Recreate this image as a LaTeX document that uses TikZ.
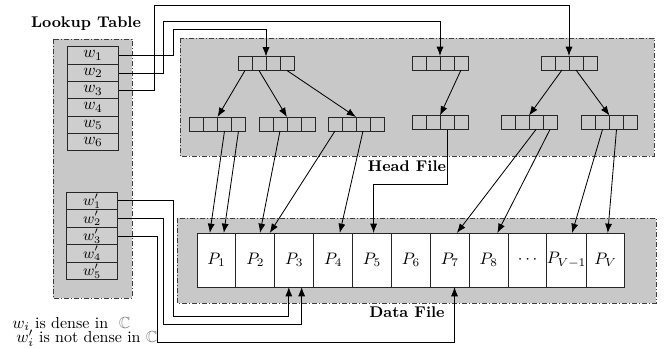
\documentclass[tikz,border=0pt]{standalone}
\usepackage{amssymb}
\usetikzlibrary{calc,arrows.meta}
\definecolor{panel}{RGB}{200,200,200}
\definecolor{cellg}{RGB}{206,206,206}
\definecolor{border}{RGB}{60,60,60}
\begin{document}
\begin{tikzpicture}[x=0.6pt,y=-0.6pt,
  panelbox/.style={draw=border, fill=panel, line width=0.5pt,
    dash pattern=on 3pt off 1.2pt on 0.6pt off 1.2pt},
  wcell/.style={draw=black!85, fill=cellg, line width=0.6pt,
    minimum width=31.2pt, minimum height=10.4pt, inner sep=0pt, outer sep=0pt,
    font=\fontsize{10}{12}\selectfont},
  vcell/.style={wcell, font=\fontsize{8.6}{10}\selectfont},
  pcell/.style={draw=black!85, fill=white, line width=0.6pt,
    minimum width=23.34pt, minimum height=32.4pt, inner sep=0pt, outer sep=0pt,
    font=\fontsize{10}{12}\selectfont},
  quad/.style={draw=black!85, fill=panel, line width=0.6pt,
    minimum width=33.6pt, minimum height=8.4pt, inner sep=0pt, outer sep=0pt,
    path picture={\foreach \f in {0.25,0.5,0.75}
      \draw[black!85, line width=0.6pt]
        ($(path picture bounding box.south west)!\f!(path picture bounding box.south east)$) --
        ($(path picture bounding box.north west)!\f!(path picture bounding box.north east)$);}},
  arr/.style={-{Latex[length=5.6pt,width=4.2pt]}, line width=0.5pt, draw=black},
  lbl/.style={font=\fontsize{9.3}{11}\selectfont\bfseries},
  legend/.style={anchor=west, inner sep=0pt, font=\fontsize{9.6}{11}\selectfont}]

\useasboundingbox (0,0) rectangle (664,349);

% panels
\draw[panelbox] (53,39) rectangle (132,298);
\draw[panelbox] (180,38) rectangle (654,156);
\draw[panelbox] (177,218) rectangle (656,303);

% labels
\node[lbl] (ltitle) at (86,24) {Lookup Table};
\node[lbl] (htitle) at (407,166) {Head File};
\node[lbl] (dtitle) at (407,312) {Data File};

% lookup cells
\foreach \i in {1,...,6}
  \node[wcell] (w\i) at (93,{47+17.3*(\i-0.5)}) {$w_{\i}$};
\foreach \i in {1,...,5}
  \node[vcell] (v\i) at (92,{192+17.6*(\i-0.5)}) {$w'_{\i}$};

% data cells
\foreach \i/\t in {1/P_1,2/P_2,3/P_3,4/P_4,5/P_5,6/P_6,7/P_7,8/P_8,9/\cdots,10/P_{V-1},11/P_V}
  \node[pcell] (p\i) at ({197+38.9*(\i-0.5)},260) {$\t$};

% tree nodes
\node[quad] (t1) at (266,63.5) {};
\node[quad] (t1a) at (217.5,124) {};
\node[quad] (t1b) at (287,124) {};
\node[quad] (t1c) at (356,124) {};
\node[quad] (t2) at (440,63) {};
\node[quad] (t2a) at (440,122.5) {};
\node[quad] (t3) at (569,63) {};
\node[quad] (t3a) at (529,122.5) {};
\node[quad] (t3b) at (609.5,122.5) {};

\foreach \n in {t1,t1a,t1b,t1c,t2,t2a,t3,t3a,t3b}
  \foreach \k/\f in {1/0.125,2/0.375,3/0.625,4/0.875}
    \coordinate (\n s\k) at ($(\n.south west)!\f!(\n.south east)$);

% entry points on data cells
\coordinate (i1a) at ($(p1.north west)!0.33!(p1.north east)$);
\coordinate (i1b) at ($(p1.north west)!0.69!(p1.north east)$);
\coordinate (i2a) at ($(p2.north west)!0.62!(p2.north east)$);
\coordinate (i2b) at ($(p2.north west)!0.87!(p2.north east)$);
\coordinate (i4) at ($(p4.north west)!0.67!(p4.north east)$);
\coordinate (i5) at ($(p5.north west)!0.54!(p5.north east)$);
\coordinate (i7) at ($(p7.north west)!0.68!(p7.north east)$);
\coordinate (i8) at ($(p8.north west)!0.72!(p8.north east)$);
\coordinate (i10) at ($(p10.north west)!0.64!(p10.north east)$);
\coordinate (i11) at ($(p11.north west)!0.56!(p11.north east)$);
\coordinate (b3a) at ($(p3.south west)!0.36!(p3.south east)$);
\coordinate (b3b) at ($(p3.south west)!0.69!(p3.south east)$);
\coordinate (b7) at ($(p7.south west)!0.62!(p7.south east)$);
\coordinate (j5) at (0,184);

% tree edges
\draw[arr] (t1s1) -- (t1a.north);
\draw[arr] (t1s2) -- (t1b.north);
\draw[arr] (t1s4) -- (t1c.north);
\draw[arr] (t2s4) -- (t2a.north);
\draw[arr] (t3s2) -- (t3a.north);
\draw[arr] (t3s3) -- (t3b.north);

% head -> data
\draw[arr] (t1as3) -- (i1a);
\draw[arr] (t1as4) -- (i1b);
\draw[arr] (t1bs2) -- (i2a);
\draw[arr] (t1cs1) -- (i2b);
\draw[arr] (t1cs3) -- (i4);
\draw[arr] (t2as3) |- (i5 |- j5) -- (i5);
\draw[arr] (t3as3) -- (i7);
\draw[arr] (t3as4) -- (i8);
\draw[arr] (t3bs2) -- (i10);
\draw[arr] (t3bs3) -- (i11);

% lookup -> head
\draw[arr] (w1.east) -| (173,29) -| (t1.north);
\draw[arr] (w2.east) -| (163,21) -| (t2.north);
\draw[arr] (w3.east) -| (154,5) -| (t3.north);

% lookup -> data
\draw[arr] (v1.east) -| (173,316) -| (b3a);
\draw[arr] (v2.east) -| (163,324) -| (b3b);
\draw[arr] (v3.east) -| (157,342) -| (b7);

% legend
\node[legend] (leg1) at (12,324) {$w_i$ is dense in \ \textcolor{gray}{$\mathbb{C}$}};
\node[legend] (leg2) at (16,338) {$w'_i$ is not dense in \textcolor{gray}{$\mathbb{C}$}};
\end{tikzpicture}
\end{document}
